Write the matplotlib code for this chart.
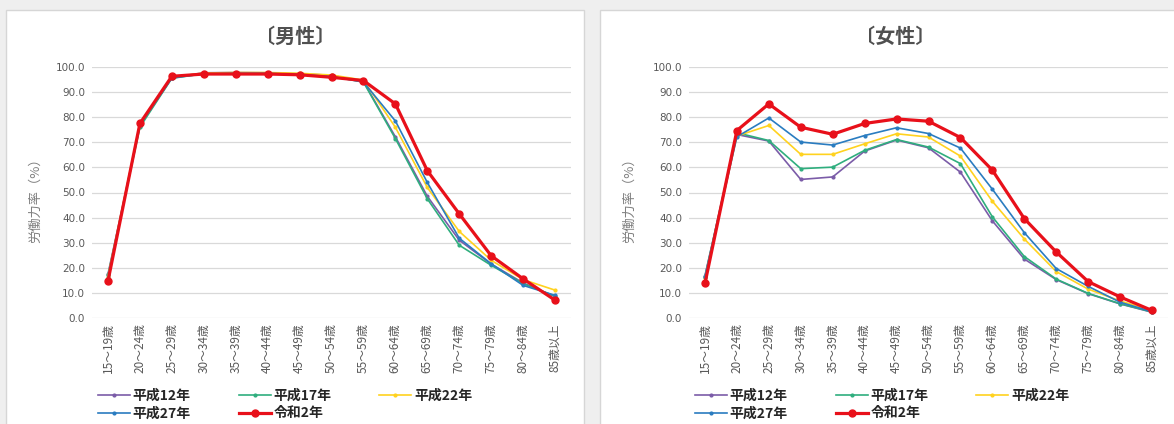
import matplotlib.pyplot as plt
from matplotlib.patches import Rectangle

plt.rcParams['font.family'] = ['Noto Sans CJK JP', 'DejaVu Sans']

ages = ["15～19歳", "20～24歳", "25～29歳", "30～34歳", "35～39歳", "40～44歳",
        "45～49歳", "50～54歳", "55～59歳", "60～64歳", "65～69歳", "70～74歳",
        "75～79歳", "80～84歳", "85歳以上"]
years = ["平成12年", "平成17年", "平成22年", "平成27年", "令和2年"]

# 労働力率（%） men
male_h12 = [17.5, 76.5, 95.8, 97.7, 97.8, 97.7, 97.3, 96.7, 94.2, 72.2, 48.5, 31.0, 21.5, 14.0, 8.5]
male_h17 = [17.0, 76.0, 95.5, 97.3, 97.5, 97.5, 97.0, 96.3, 94.0, 71.5, 47.5, 29.0, 21.0, 13.7, 8.7]
male_h22 = [16.5, 77.5, 96.0, 97.6, 97.8, 97.8, 97.5, 96.8, 94.8, 76.0, 52.0, 34.5, 23.0, 15.3, 11.1]
male_h27 = [16.0, 77.0, 95.6, 97.3, 97.5, 97.5, 97.0, 96.2, 94.0, 78.5, 54.0, 31.8, 21.6, 13.0, 9.0]
male_r2 = [14.7, 77.5, 96.3, 97.2, 97.2, 97.2, 96.9, 95.9, 94.6, 85.3, 58.7, 41.5, 24.8, 15.6, 7.1]

# women
female_h12 = [16.9, 73.1, 70.5, 55.2, 56.2, 66.5, 70.9, 67.8, 58.1, 38.7, 23.5, 15.3, 9.7, 5.6, 2.3]
female_h17 = [16.5, 73.8, 70.7, 59.5, 60.1, 66.8, 71.1, 68.1, 61.5, 40.3, 24.5, 15.5, 9.8, 5.7, 2.4]
female_h22 = [15.9, 72.5, 76.7, 65.2, 65.2, 69.4, 73.4, 72.1, 64.5, 46.5, 31.5, 18.5, 11.5, 6.8, 3.0]
female_h27 = [16.3, 72.2, 79.7, 70.1, 68.9, 72.7, 75.8, 73.5, 67.7, 51.3, 34.0, 19.7, 12.6, 6.3, 2.5]
female_r2 = [13.8, 74.7, 85.3, 76.0, 73.2, 77.5, 79.3, 78.4, 71.9, 58.9, 39.6, 26.3, 14.5, 8.4, 3.0]

colors = ["#7b5ca8", "#2fae7e", "#ffd21f", "#2a7cc0", "#e8101a"]
W, H = 1174, 424


def px(x0, y0, w, h):
    # pixel box (top-left origin) -> figure fraction
    return [x0 / W, 1 - (y0 + h) / H, w / W, h / H]


def draw_panel(fig, x0, panel_w, ax_x, title, series):
    fig.patches.append(Rectangle((x0 / W, -0.01), panel_w / W, 1 - 10 / H + 0.01,
                                 transform=fig.transFigure, facecolor="white",
                                 edgecolor="#d6d6d6", linewidth=1.0, zorder=-1))
    fig.text((x0 + panel_w / 2) / W, 1 - 36 / H, title, ha="center", va="center",
             fontsize=14.5, fontweight="bold", color="#505050")

    ax = fig.add_axes(px(ax_x, 67, 479, 251))
    ax.set_facecolor("none")
    x = list(range(len(ages)))
    handles = []
    for i, (vals, c) in enumerate(zip(series, colors)):
        if i == 4:
            h, = ax.plot(x, vals, color=c, lw=2.3, marker="o", ms=5, zorder=5)
        else:
            h, = ax.plot(x, vals, color=c, lw=1.2, marker="o", ms=2, zorder=2 + i)
        handles.append(h)

    ax.set_xlim(-0.5, len(ages) - 0.5)
    ax.set_ylim(0, 100)
    ax.set_yticks(range(0, 101, 10))
    ax.set_yticklabels([f"{v:.1f}" for v in range(0, 101, 10)], fontsize=7.5,
                       color="#595959", family="DejaVu Sans")
    ax.set_xticks(x)
    ax.set_xticklabels(ages, rotation=90, fontsize=8.5, color="#595959")
    ax.tick_params(length=0, pad=5)
    ax.tick_params(axis="x", pad=4)
    for s in ax.spines.values():
        s.set_visible(False)
    ax.grid(axis="y", color="#d9d9d9", lw=0.9)
    ax.set_axisbelow(True)
    ax.set_ylabel("労働力率（%）", fontsize=9.5, color="#808080")
    ax.yaxis.set_label_coords((x0 + 36 - ax_x) / 479, (318 - 197) / 251)

    order = [0, 3, 1, 4, 2]
    leg = fig.legend([handles[k] for k in order], [years[k] for k in order],
                     ncol=3, loc="upper left",
                     bbox_to_anchor=((ax_x + 6) / W, 1 - 389 / H),
                     frameon=False, borderpad=0, borderaxespad=0,
                     handlelength=2.3, handletextpad=0.2, columnspacing=3.45,
                     labelspacing=0.25, prop={"size": 10, "weight": "bold"})
    for t in leg.get_texts():
        t.set_color("#262626")
    return ax


fig = plt.figure(figsize=(W / 100, H / 100), dpi=100, facecolor="#efefef")
draw_panel(fig, 6, 578, 92, "〔男性〕",
           [male_h12, male_h17, male_h22, male_h27, male_r2])
draw_panel(fig, 600, 590, 689, "〔女性〕",
           [female_h12, female_h17, female_h22, female_h27, female_r2])
fig.savefig("out.png", dpi=100, facecolor=fig.get_facecolor())
